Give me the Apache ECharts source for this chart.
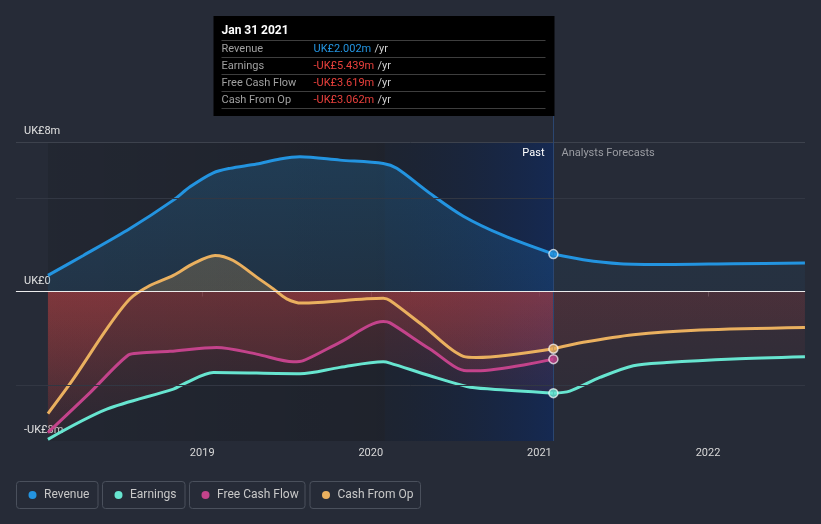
<!DOCTYPE html>
<html><head><meta charset="utf-8">
<script src="https://cdn.jsdelivr.net/npm/echarts@6/dist/echarts.min.js"></script>
<style>html,body{margin:0;padding:0;background:#262b37;}#c{width:821px;height:524px;}</style>
</head><body><div id="c"></div>
<script>
// ---- data (x = decimal year, y = UK£ millions) ----
const yTickValues = [-8, 0, 8];
const yTickLabels = ['-UK£8m', 'UK£0', 'UK£8m'];
const yGuideLines = [8, 5, -5];
const yearTicks = [2019, 2020, 2021, 2022];
const xRange = [2017.8956, 2022.5753];
const pastBandStart = 2018.085;
const recentBandStart = 2020.083;
const highlightDate = 2021.083;
const highlightLabel = 'Jan 31 2021';

const revenuePast = [[2018.085,0.86],[2018.295,1.93],[2018.572,3.37],[2018.829,4.89],[2018.928,5.6],[2019.066,6.35],[2019.165,6.59],[2019.323,6.82],[2019.461,7.09],[2019.58,7.21],[2019.817,7.03],[2020.074,6.85],[2020.154,6.59],[2020.351,5.25],[2020.549,4.03],[2020.786,3.0],[2021.083,2.002]];
const revenueForecast = [[2021.083,2.002],[2021.26,1.70],[2021.478,1.49],[2021.755,1.45],[2022.15,1.49],[2022.575,1.52]];

const earningsPast = [[2018.085,-7.91],[2018.434,-6.3],[2018.829,-5.22],[2018.908,-4.87],[2019.066,-4.33],[2019.58,-4.40],[2019.817,-4.06],[2020.074,-3.76],[2020.114,-3.83],[2020.351,-4.51],[2020.569,-5.08],[2020.707,-5.22],[2021.083,-5.439]];
const earningsForecast = [[2021.083,-5.439],[2021.18,-5.33],[2021.359,-4.6],[2021.557,-3.97],[2021.755,-3.80],[2022.15,-3.61],[2022.575,-3.49]];

const fcfPast = [[2018.085,-7.55],[2018.335,-5.41],[2018.562,-3.40],[2018.631,-3.29],[2018.809,-3.2],[2019.086,-2.99],[2019.323,-3.35],[2019.54,-3.76],[2019.6,-3.7],[2019.817,-2.72],[2020.074,-1.61],[2020.114,-1.68],[2020.351,-3.08],[2020.569,-4.24],[2020.628,-4.24],[2021.083,-3.619]];

const cfoPast = [[2018.085,-6.53],[2018.235,-4.69],[2018.434,-2.0],[2018.572,-0.39],[2018.69,0.32],[2018.829,0.86],[2018.947,1.49],[2019.076,1.93],[2019.184,1.66],[2019.323,0.77],[2019.422,0.14],[2019.501,-0.39],[2019.59,-0.62],[2020.074,-0.36],[2020.114,-0.48],[2020.311,-1.83],[2020.549,-3.47],[2020.628,-3.53],[2021.083,-3.062]];
const cfoForecast = [[2021.083,-3.062],[2021.26,-2.72],[2021.557,-2.31],[2021.953,-2.06],[2022.575,-1.92]];

const seriesNames = ['Revenue', 'Earnings', 'Free Cash Flow', 'Cash From Op'];
const seriesColors = ['#2394e0', '#67e5d0', '#c3438b', '#eab05f'];

// ---- layout ----
const G = {left: 16, right: 16, top: 142, bottom: 83};
const H = 524, W = 821;
const gTop = G.top, gBot = H - G.bottom;
const yMin = -8, yMax = 8;
const zeroY = gTop + (yMax - 0) / (yMax - yMin) * (gBot - gTop);
const zOff = (zeroY - gTop) / (gBot - gTop);

function fill(posColor, aTop, aBot) {
  return {type: 'linear', x: 0, y: gTop, x2: 0, y2: gBot, global: true, colorStops: [
    {offset: 0, color: posColor}, {offset: zOff, color: posColor},
    {offset: zOff, color: 'rgba(215,70,70,' + aTop + ')'}, {offset: 1, color: 'rgba(215,70,70,' + aBot + ')'}]};
}
function revFill(a1, a2) {
  return {type: 'linear', x: 0, y: gTop, x2: 0, y2: zeroY, global: true, colorStops: [
    {offset: 0, color: 'rgba(35,148,224,' + a1 + ')'}, {offset: 1, color: 'rgba(35,148,224,' + a2 + ')'}]};
}
function lineSeries(name, data, color, area, extra) {
  return Object.assign({type: 'line', name: name, data: data, smooth: 0.3, symbol: 'none',
    lineStyle: {color: color, width: 3}, itemStyle: {color: color}, areaStyle: {color: area, origin: 0}, z: 3}, extra || {});
}

const chart = echarts.init(document.getElementById('c'), null, {renderer: 'canvas'});
const option = {
  backgroundColor: '#262b37',
  animation: false,
  textStyle: {fontFamily: 'Roboto'},
  grid: {left: G.left, right: G.right, top: G.top, bottom: G.bottom},
  xAxis: {type: 'value', min: xRange[0], max: xRange[1],
    axisLine: {lineStyle: {color: '#4b505b'}},
    axisTick: {customValues: yearTicks, length: 5, lineStyle: {color: '#4b505b'}},
    axisLabel: {customValues: yearTicks, color: '#d8d8d8', fontSize: 11, margin: 7, formatter: v => String(v)},
    splitLine: {show: false}},
  yAxis: {type: 'value', min: yMin, max: yMax, interval: 8,
    axisLine: {show: false}, axisTick: {show: false}, splitLine: {show: false},
    axisLabel: {inside: true, margin: 8, color: '#e0e0e0', fontSize: 11, verticalAlign: 'bottom', padding: [0, 0, 5, 0],
      formatter: v => yTickLabels[yTickValues.indexOf(v)]}},
  series: [
    {type: 'line', data: [], silent: true,
      markArea: {silent: true, data: [
        [{xAxis: pastBandStart, itemStyle: {color: {type: 'linear', x: 0, y: 0, x2: 1, y2: 0, colorStops: [
          {offset: 0, color: 'rgba(0,0,0,0.1)'}, {offset: 1, color: 'rgba(0,0,0,0.2)'}]}}}, {xAxis: recentBandStart}],
        [{xAxis: recentBandStart, itemStyle: {color: {type: 'linear', x: 0, y: 0, x2: 1, y2: 0, colorStops: [
          {offset: 0, color: 'rgba(10,20,35,0.3)'}, {offset: 1, color: 'rgba(10,40,100,0.6)'}]}}}, {xAxis: highlightDate}]
      ]},
      markLine: {silent: true, symbol: 'none', label: {show: false}, data: [
        {yAxis: yGuideLines[0], lineStyle: {color: '#3d424d', width: 1, type: 'solid'}},
        {yAxis: yGuideLines[1], lineStyle: {color: '#323743', width: 1, type: 'solid'}},
        {yAxis: yGuideLines[2], lineStyle: {color: '#323743', width: 1, type: 'solid'}},
        {xAxis: highlightDate, lineStyle: {color: '#2b4670', width: 1, type: 'solid'}}
      ]}, z: 1},
    lineSeries(seriesNames[0], revenuePast, seriesColors[0], revFill(0.32, 0.18)),
    lineSeries(seriesNames[0], revenueForecast, seriesColors[0], revFill(0.12, 0.08)),
    lineSeries(seriesNames[1], earningsPast, seriesColors[1], fill('rgba(0,0,0,0)', 0.3, 0.06)),
    lineSeries(seriesNames[1], earningsForecast, seriesColors[1], fill('rgba(0,0,0,0)', 0.15, 0.03)),
    lineSeries(seriesNames[2], fcfPast, seriesColors[2], fill('rgba(0,0,0,0)', 0.3, 0.06)),
    lineSeries(seriesNames[3], cfoPast, seriesColors[3], fill('rgba(234,176,95,0.3)', 0.3, 0.06)),
    lineSeries(seriesNames[3], cfoForecast, seriesColors[3], fill('rgba(234,176,95,0.3)', 0.15, 0.03)),
    {type: 'line', data: [], silent: true, z: 4,
      markLine: {silent: true, symbol: 'none', label: {show: false}, data: [{yAxis: 0, lineStyle: {color: '#ececec', width: 1, type: 'solid'}}]}},
    {type: 'scatter', silent: true, z: 6, symbolSize: 9,
      data: [revenuePast, earningsPast, fcfPast, cfoPast].map((arr, i) => ({value: arr[arr.length - 1],
        itemStyle: {color: seriesColors[i], borderColor: 'rgba(255,255,255,0.85)', borderWidth: 1.5}}))}
  ]
};
chart.setOption(option);

// ---- overlays: tooltip, past/forecast labels, legend ----
const lineX = Math.round(chart.convertToPixel({gridIndex: 0}, [highlightDate, 0])[0]) + 0.5;
const fmt = v => (v < 0 ? '-' : '') + 'UK£' + Math.abs(v).toFixed(3) + 'm';
const lastVals = [revenuePast, earningsPast, fcfPast, cfoPast].map(a => a[a.length - 1][1]);
const tipW = 341, tipRight = lineX + 1, tipLeft = tipRight - tipW, tipTop = 16, tipH = 100;
const g = [];
g.push({type: 'line', shape: {x1: lineX, y1: tipTop + tipH, x2: lineX, y2: gTop}, style: {stroke: '#2b4670', lineWidth: 1}, z: 10});
g.push({type: 'rect', shape: {x: tipLeft, y: tipTop, width: tipW, height: tipH}, style: {fill: '#000000'}, z: 20});
g.push({type: 'text', x: tipLeft + 8, y: tipTop + 15, style: {text: highlightLabel, fill: '#ffffff', font: 'bold 12px Roboto', verticalAlign: 'middle'}, z: 21});
const sepYs = [40.5, 57.5, 74.5, 91.5, 108.5];
sepYs.forEach(y => g.push({type: 'line', shape: {x1: tipLeft + 8, y1: y, x2: tipLeft + 332, y2: y}, style: {stroke: '#3e3e3e', lineWidth: 1}, z: 21}));
seriesNames.forEach((n, i) => {
  const cy = 49 + i * 17;
  g.push({type: 'text', x: tipLeft + 8, y: cy, style: {text: n, fill: '#a0a0a0', font: '11px Roboto', verticalAlign: 'middle'}, z: 21});
  g.push({type: 'text', x: tipLeft + 100, y: cy, style: {text: '{v|' + fmt(lastVals[i]) + '} {u|/yr}', verticalAlign: 'middle',
    rich: {v: {fill: i === 0 ? '#2394e0' : '#e8403c', font: '11px Roboto'}, u: {fill: '#d0d0d0', font: '11px Roboto'}}}, z: 21});
});
g.push({type: 'text', x: lineX - 9, y: 153, style: {text: 'Past', fill: '#ffffff', font: '11px Roboto', align: 'right', verticalAlign: 'middle'}, z: 10});
g.push({type: 'text', x: lineX + 8, y: 153, style: {text: 'Analysts Forecasts', fill: '#9a9ca2', font: '11px Roboto', align: 'left', verticalAlign: 'middle'}, z: 10});
const legendBoxes = [[16, 81.5], [102, 82.5], [189, 115.5], [309.5, 110.5]];
seriesNames.forEach((n, i) => {
  const [x, w] = legendBoxes[i];
  g.push({type: 'rect', shape: {x: x + 0.5, y: 481.5, width: w, height: 27, r: 3}, style: {fill: 'none', stroke: '#4a505c', lineWidth: 1}, z: 10});
  g.push({type: 'circle', shape: {cx: x + 16.5, cy: 495, r: 4}, style: {fill: seriesColors[i]}, z: 10});
  g.push({type: 'text', x: x + 28, y: 495, style: {text: n, fill: '#c8c8c8', font: '12px Roboto', verticalAlign: 'middle'}, z: 10});
});
chart.setOption({graphic: g});
</script></body></html>
